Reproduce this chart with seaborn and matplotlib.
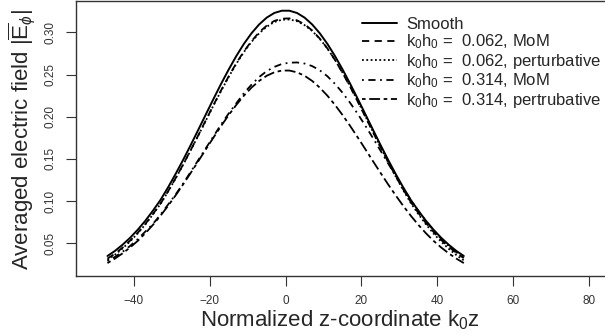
import numpy as np
import pandas as pd
import seaborn as sns
import matplotlib.pyplot as plt

# normalized z-coordinate k0*z
z = [-47, -45, -43, -41, -39, -37, -35, -33, -31, -29, -27, -25, -23, -21, -19, -17,
     -15, -13, -11, -9, -7, -5, -3, -1, 1, 3, 5, 7, 9, 11, 13, 15,
     17, 19, 21, 23, 25, 27, 29, 31, 33, 35, 37, 39, 41, 43, 45, 47]

smooth = [0.0350, 0.0411, 0.0484, 0.0567, 0.0662, 0.0768, 0.0887, 0.1015, 0.1164, 0.1324, 0.1492, 0.1668,
          0.1849, 0.2032, 0.2214, 0.2392, 0.2561, 0.2720, 0.2864, 0.2989, 0.3093, 0.3174, 0.3229, 0.3256,
          0.3256, 0.3229, 0.3174, 0.3093, 0.2989, 0.2864, 0.2720, 0.2561, 0.2392, 0.2214, 0.2032, 0.1849,
          0.1668, 0.1492, 0.1324, 0.1164, 0.1015, 0.0887, 0.0768, 0.0662, 0.0567, 0.0484, 0.0411, 0.0350]
mom_062 = [0.0319, 0.0378, 0.0450, 0.0533, 0.0626, 0.0730, 0.0847, 0.0972, 0.1117, 0.1274, 0.1437, 0.1608,
           0.1784, 0.1963, 0.2141, 0.2315, 0.2479, 0.2636, 0.2775, 0.2896, 0.3000, 0.3079, 0.3135, 0.3162,
           0.3165, 0.3142, 0.3095, 0.3022, 0.2926, 0.2810, 0.2674, 0.2520, 0.2356, 0.2181, 0.2002, 0.1821,
           0.1643, 0.1468, 0.1300, 0.1141, 0.0990, 0.0860, 0.0741, 0.0636, 0.0541, 0.0460, 0.0386, 0.0326]
pert_062 = [0.0305, 0.0366, 0.0440, 0.0524, 0.0619, 0.0724, 0.0843, 0.0968, 0.1114, 0.1270, 0.1434, 0.1605,
            0.1781, 0.1958, 0.2137, 0.2308, 0.2474, 0.2628, 0.2767, 0.2887, 0.2988, 0.3066, 0.3122, 0.3149,
            0.3152, 0.3132, 0.3085, 0.3016, 0.2923, 0.2810, 0.2674, 0.2523, 0.2361, 0.2187, 0.2008, 0.1825,
            0.1643, 0.1465, 0.1295, 0.1131, 0.0979, 0.0847, 0.0726, 0.0617, 0.0521, 0.0436, 0.0362, 0.0298]
mom_314 = [0.0290, 0.0340, 0.0400, 0.0470, 0.0550, 0.0640, 0.0730, 0.0840, 0.0960, 0.1080, 0.1210, 0.1350,
           0.1490, 0.1630, 0.1770, 0.1910, 0.2040, 0.2160, 0.2280, 0.2380, 0.2470, 0.2540, 0.2590, 0.2625,
           0.2640, 0.2643, 0.2630, 0.2600, 0.2550, 0.2480, 0.2390, 0.2285, 0.2165, 0.2035, 0.1895, 0.1750,
           0.1600, 0.1450, 0.1300, 0.1155, 0.1015, 0.0885, 0.0765, 0.0655, 0.0555, 0.0470, 0.0395, 0.0330]
pert_314 = [0.0266, 0.0320, 0.0382, 0.0452, 0.0530, 0.0620, 0.0719, 0.0828, 0.0945, 0.1070, 0.1201, 0.1337,
            0.1476, 0.1617, 0.1756, 0.1892, 0.2021, 0.2141, 0.2250, 0.2345, 0.2424, 0.2485, 0.2526, 0.2547,
            0.2547, 0.2526, 0.2485, 0.2424, 0.2345, 0.2250, 0.2141, 0.2021, 0.1892, 0.1756, 0.1617, 0.1476,
            0.1337, 0.1201, 0.1070, 0.0945, 0.0828, 0.0719, 0.0620, 0.0530, 0.0452, 0.0382, 0.0320, 0.0266]

labels = ["Smooth",
          r"k$_0$h$_0$ =  0.062, MoM",
          r"k$_0$h$_0$ =  0.062, perturbative",
          r"k$_0$h$_0$ =  0.314, MoM",
          r"k$_0$h$_0$ =  0.314, pertrubative"]
series = [smooth, mom_062, pert_062, mom_314, pert_314]
styles = ["-", (0, (4, 3)), (0, (1, 1.4)), (0, (1, 2.5, 4, 2.5)), (0, (2, 2, 6, 2))]

sns.set_style("white")
plt.rcParams["font.family"] = ["Liberation Sans", "DejaVu Sans"]
plt.rcParams["mathtext.fontset"] = "custom"
plt.rcParams["mathtext.rm"] = "Liberation Sans"
plt.rcParams["mathtext.it"] = "Liberation Sans:italic"

fig = plt.figure(figsize=(6.05, 3.34), dpi=100)
W, H = 605, 334
ax = fig.add_axes([76 / W, (H - 276) / H, (620 - 76) / W, (276 - 1) / H])

for lab, vals, ls in zip(labels, series, styles):
    df = pd.DataFrame({"z": z, "E": vals})
    sns.lineplot(data=df, x="z", y="E", ax=ax, color="black",
                 lw=1.4 if ls == "-" else 1.3, linestyle=ls, label=lab)

ax.set_xlim(-55.3, 88.2)
ax.set_ylim(0.0113, 0.3371)
ax.set_xticks([-40, -20, 0, 20, 40, 60, 80])
ax.set_xticklabels(["\u221240", "\u221220", "0", "20", "40", "60", "80"])
yt = [0.05, 0.10, 0.15, 0.20, 0.25, 0.30]
ax.set_yticks(yt)
ax.set_yticklabels(["%.2f" % v for v in yt], rotation=90, va="center")
ax.tick_params(direction="out", length=7, width=0.8, color="#333333",
               labelsize=8.5, labelcolor="#333333", pad=7)
ax.tick_params(axis="both", which="both", bottom=True, left=True)
for s in ax.spines.values():
    s.set_color("#333333")
    s.set_linewidth(1.0)
ax.set_xlabel("")
ax.set_ylabel("")

fig.text(340 / W, 1 - 320 / H, r"Normalized z-coordinate k$_0$z",
         ha="center", va="center", fontsize=16)
fig.text(22 / W, 1 - 140 / H, r"Averaged electric field $|\overline{\mathrm{E}}_{\phi}|$",
         ha="center", va="center", rotation=90, fontsize=16)

leg = ax.legend(loc="upper left", bbox_to_anchor=(362 / W, 1 - 17 / H),
                bbox_transform=fig.transFigure, frameon=False, fontsize=12,
                handlelength=2.1, handletextpad=0.55, labelspacing=0.04,
                borderpad=0, borderaxespad=0)

fig.savefig("out.png", dpi=100)
